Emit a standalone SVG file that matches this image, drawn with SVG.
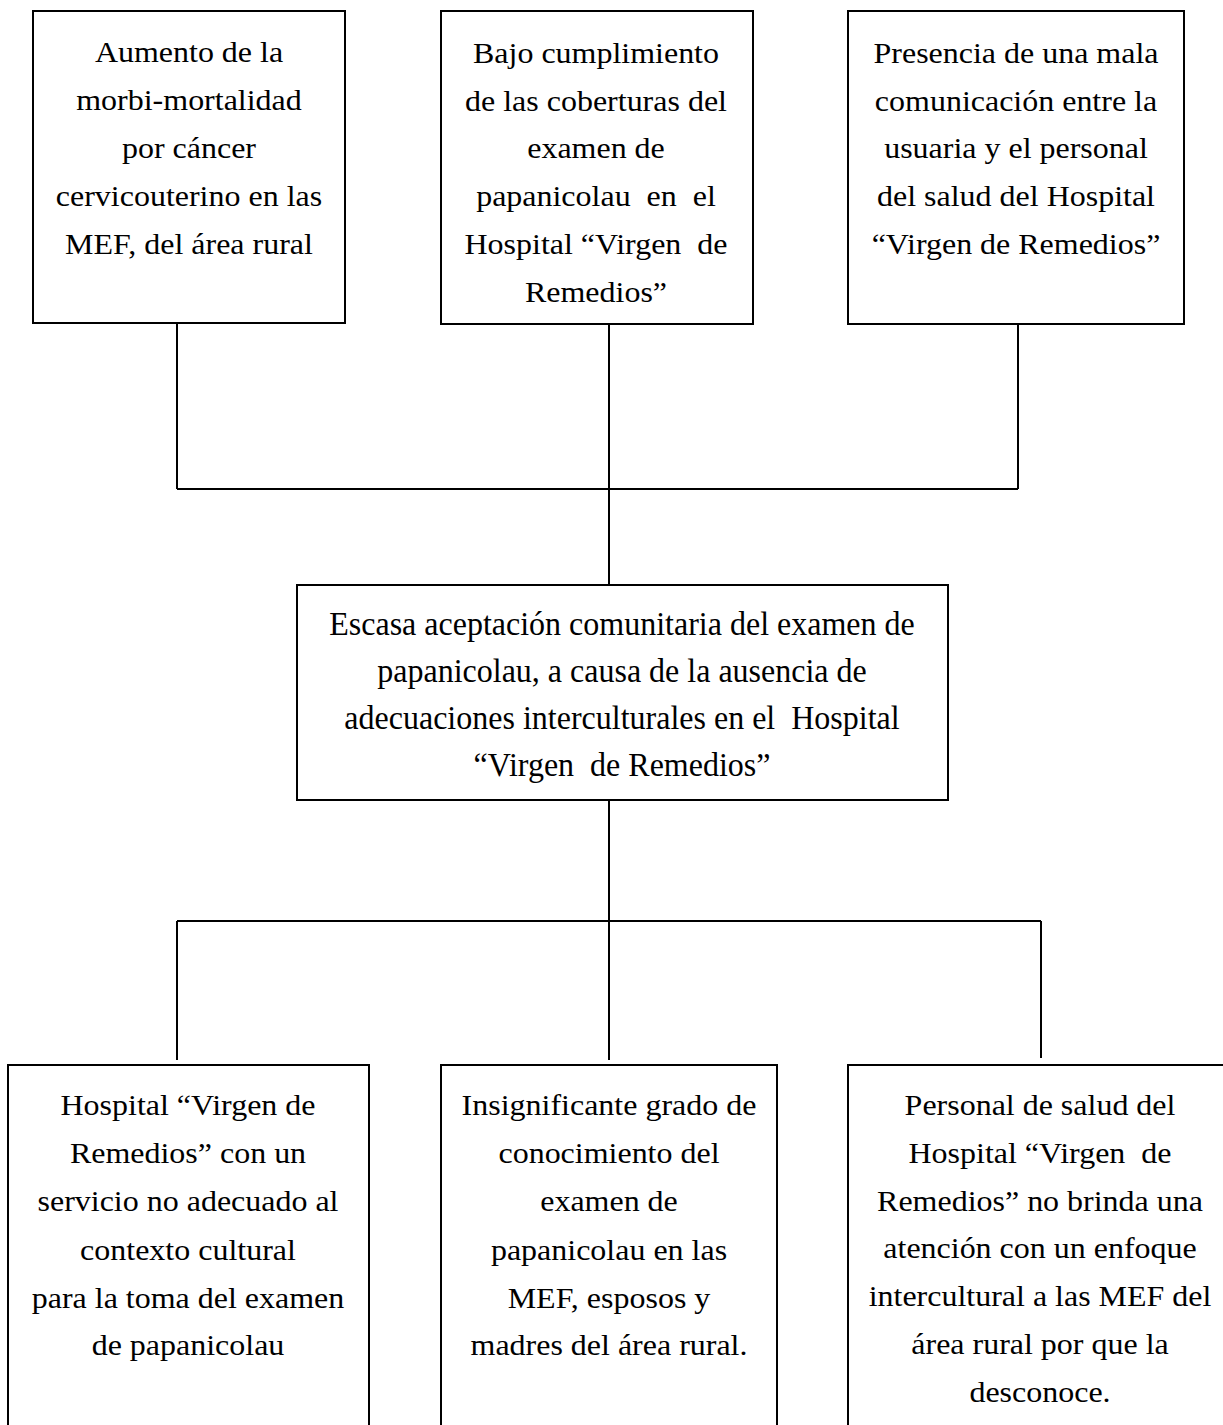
<svg xmlns="http://www.w3.org/2000/svg" width="1223" height="1425" viewBox="0 0 1223 1425">
<style>
.box{fill:#fff;stroke:#000;stroke-width:2}
.ln{stroke:#000;stroke-width:2;fill:none}
text{font-family:"Liberation Serif","Times New Roman",serif;font-size:30px;fill:#000;text-anchor:middle;white-space:pre}
.c text{font-size:33px}
</style>
<rect width="1223" height="1425" fill="#fff"/>
<g id="connectors">
<path class="ln" d="M177,321V489M609,322V585M1018,322V489M177,489H1018"/>
<path class="ln" d="M609,800V1060M177,921H1041M177,921V1060M1041,921V1058"/>
</g>
<g id="n1">
<rect class="box" x="33" y="11" width="312" height="312"/>
<g transform="translate(189,0) scale(1.066,1)">
<text x="0" y="62">Aumento de la</text>
<text x="0" y="110">morbi-mortalidad</text>
<text x="0" y="158">por cáncer</text>
<text x="0" y="206">cervicouterino en las</text>
<text x="0" y="254">MEF, del área rural</text>
</g>
</g>
<g id="n2">
<rect class="box" x="441" y="11" width="312" height="313"/>
<g transform="translate(596,0) scale(1.066,1)">
<text x="0" y="63">Bajo cumplimiento</text>
<text x="0" y="111">de las coberturas del</text>
<text x="0" y="158">examen de</text>
<text x="0" y="206">papanicolau  en  el</text>
<text x="0" y="254">Hospital “Virgen  de</text>
<text x="0" y="302">Remedios”</text>
</g>
</g>
<g id="n3">
<rect class="box" x="848" y="11" width="336" height="313"/>
<g transform="translate(1016,0) scale(1.066,1)">
<text x="0" y="63">Presencia de una mala</text>
<text x="0" y="111">comunicación entre la</text>
<text x="0" y="158">usuaria y el personal</text>
<text x="0" y="206">del salud del Hospital</text>
<text x="0" y="254">“Virgen de Remedios”</text>
</g>
</g>
<g id="n4" class="c">
<rect class="box" x="297" y="585" width="651" height="215"/>
<g transform="translate(622,0) scale(0.97,1)">
<text x="0" y="635">Escasa aceptación comunitaria del examen de</text>
<text x="0" y="682">papanicolau, a causa de la ausencia de</text>
<text x="0" y="729">adecuaciones interculturales en el  Hospital</text>
<text x="0" y="776">“Virgen  de Remedios”</text>
</g>
</g>
<g id="n5">
<rect class="box" x="8" y="1065" width="361" height="380"/>
<g transform="translate(188,0) scale(1.066,1)">
<text x="0" y="1115">Hospital “Virgen de</text>
<text x="0" y="1163">Remedios” con un</text>
<text x="0" y="1211">servicio no adecuado al</text>
<text x="0" y="1260">contexto cultural</text>
<text x="0" y="1308">para la toma del examen</text>
<text x="0" y="1355">de papanicolau</text>
</g>
</g>
<g id="n6">
<rect class="box" x="441" y="1065" width="336" height="380"/>
<g transform="translate(609,0) scale(1.066,1)">
<text x="0" y="1115">Insignificante grado de</text>
<text x="0" y="1163">conocimiento del</text>
<text x="0" y="1211">examen de</text>
<text x="0" y="1260">papanicolau en las</text>
<text x="0" y="1308">MEF, esposos y</text>
<text x="0" y="1355">madres del área rural.</text>
</g>
</g>
<g id="n7">
<rect class="box" x="848" y="1065" width="390" height="380"/>
<g transform="translate(1040,0) scale(1.066,1)">
<text x="0" y="1115">Personal de salud del</text>
<text x="0" y="1163">Hospital “Virgen  de</text>
<text x="0" y="1211">Remedios” no brinda una</text>
<text x="0" y="1258">atención con un enfoque</text>
<text x="0" y="1306">intercultural a las MEF del</text>
<text x="0" y="1354">área rural por que la</text>
<text x="0" y="1402">desconoce.</text>
</g>
</g>
</svg>
